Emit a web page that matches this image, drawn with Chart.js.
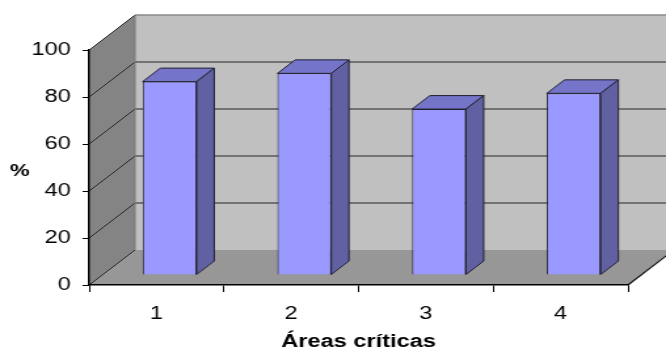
<!DOCTYPE html>
<html>
<head>
<meta charset="utf-8">
<script src="https://cdn.jsdelivr.net/npm/chart.js@4"></script>
<style>
  html, body { margin: 0; padding: 0; background: #fff; }
  canvas { display: block; }
</style>
</head>
<body>
<!-- drawn on a narrower canvas and widened by CSS, like a stretched Excel picture -->
<canvas id="c" width="508" height="355" style="width:666px;height:355px"></canvas>
<script>
// ---- data ----
const categories = ['1', '2', '3', '4'];
const percentValues = [82.3, 85.8, 70.6, 77.3];
const yTickValues = [0, 20, 40, 60, 80, 100];
const xAxisTitle = 'Áreas críticas';
const yAxisTitle = '%';

// ---- 3D look (oblique 45° projection) ----
const DEPTH = 35;       // depth of walls and floor
const BAR_SHIFT = 10;   // distance of the bar front faces behind the front edge
const BAR_DEPTH = 13.5; // depth of each column
const FONT = '"Liberation Sans", Arial, sans-serif';

function poly(ctx, pts, fill, stroke, lw) {
  ctx.beginPath();
  ctx.moveTo(pts[0][0], pts[0][1]);
  for (let i = 1; i < pts.length; i++) ctx.lineTo(pts[i][0], pts[i][1]);
  ctx.closePath();
  if (fill) { ctx.fillStyle = fill; ctx.fill(); }
  if (stroke) { ctx.strokeStyle = stroke; ctx.lineWidth = lw || 1; ctx.stroke(); }
}
function line(ctx, x1, y1, x2, y2, color, lw) {
  ctx.beginPath();
  ctx.moveTo(x1, y1);
  ctx.lineTo(x2, y2);
  ctx.strokeStyle = color;
  ctx.lineWidth = lw || 1;
  ctx.stroke();
}

const box3d = {
  id: 'box3d',
  beforeDraw(chart) {
    const { ctx, chartArea: a, scales: { y } } = chart;
    const L = a.left, R = a.right;
    const T = y.getPixelForValue(100), B = y.getPixelForValue(0);
    ctx.save();
    // back wall
    ctx.fillStyle = '#c0c0c0';
    ctx.fillRect(L + DEPTH, T - DEPTH, R - L, B - T);
    // left side wall
    poly(ctx, [[L, T], [L + DEPTH, T - DEPTH], [L + DEPTH, B - DEPTH], [L, B]], '#848484');
    // floor
    poly(ctx, [[L, B], [R, B], [R + DEPTH, B - DEPTH], [L + DEPTH, B - DEPTH]], '#979797');
    // back wall top edge
    line(ctx, L + DEPTH, T - DEPTH, R + DEPTH, T - DEPTH, '#8a8a8a', 1.5);
    // gridlines on back wall and side wall
    yTickValues.forEach(v => {
      const py = y.getPixelForValue(v);
      if (v > 0 && v < 100) {
        line(ctx, L + DEPTH, py - DEPTH, R + DEPTH, py - DEPTH, '#5a5a5a', 1.6);
      }
      line(ctx, L, py, L + DEPTH, py - DEPTH, '#2a2a2a', 1);
    });
    // corner between side wall and back wall
    line(ctx, L + DEPTH, T - DEPTH, L + DEPTH, B - DEPTH, '#7a7a7a', 1);
    // front right edge of the floor
    line(ctx, R, B, R + DEPTH, B - DEPTH, '#111', 1.2);
    ctx.restore();
  },
  beforeDatasetsDraw(chart) {
    chart.ctx.save();
    chart.ctx.translate(BAR_SHIFT, -BAR_SHIFT);
  },
  afterDatasetsDraw(chart) {
    const ctx = chart.ctx;
    ctx.restore();
    ctx.save();
    chart.getDatasetMeta(0).data.forEach(bar => {
      const { x, y, base, width } = bar.getProps(['x', 'y', 'base', 'width'], true);
      const l = x - width / 2 + BAR_SHIFT, r = x + width / 2 + BAR_SHIFT;
      const t = y - BAR_SHIFT, b = base - BAR_SHIFT, d = BAR_DEPTH;
      ctx.lineJoin = 'round';
      poly(ctx, [[l, t], [l + d, t - d], [r + d, t - d], [r, t]], '#7474c8', '#202030', 1);
      poly(ctx, [[r, t], [r + d, t - d], [r + d, b - d], [r, b]], '#6060a2', '#202030', 1);
    });
    ctx.restore();
  },
  afterDraw(chart) {
    const ctx = chart.ctx;
    const y = chart.scales.y;
    ctx.save();
    ctx.font = 'bold 17px ' + FONT;
    ctx.fillStyle = '#000';
    ctx.textAlign = 'center';
    ctx.textBaseline = 'middle';
    ctx.fillText(yAxisTitle, 15, (y.top + y.bottom) / 2 + 4);
    ctx.restore();
  }
};

new Chart(document.getElementById('c'), {
  type: 'bar',
  data: {
    labels: categories,
    datasets: [{
      data: percentValues,
      backgroundColor: '#9999ff',
      borderColor: '#202030',
      borderWidth: 1,
      barPercentage: 0.4,
      categoryPercentage: 1.0
    }]
  },
  options: {
    responsive: false,
    devicePixelRatio: 1,
    animation: false,
    layout: { padding: { top: 50, right: 29, bottom: 0, left: 0 } },
    plugins: { legend: { display: false }, tooltip: { enabled: false } },
    scales: {
      x: {
        grid: { drawOnChartArea: false, drawTicks: true, tickLength: 7, color: '#000', offset: true },
        border: { display: true, color: '#000', width: 1.5 },
        ticks: { color: '#000', font: { family: FONT, size: 18 }, padding: 11 },
        title: {
          display: true, text: xAxisTitle, color: '#000',
          font: { family: FONT, size: 18, weight: 'bold' },
          padding: { top: 0, bottom: 2 }
        },
        afterFit(s) { s.height = 70; }
      },
      y: {
        min: 0, max: 100,
        afterBuildTicks(s) { s.ticks = yTickValues.map(v => ({ value: v })); },
        grid: { drawOnChartArea: false, drawTicks: true, tickLength: 5, color: '#000' },
        border: { display: true, color: '#000', width: 1.5 },
        ticks: { color: '#000', font: { family: FONT, size: 18 }, padding: 9 },
        afterFit(s) { s.width = 68; }
      }
    }
  },
  plugins: [box3d]
});
</script>
</body>
</html>
